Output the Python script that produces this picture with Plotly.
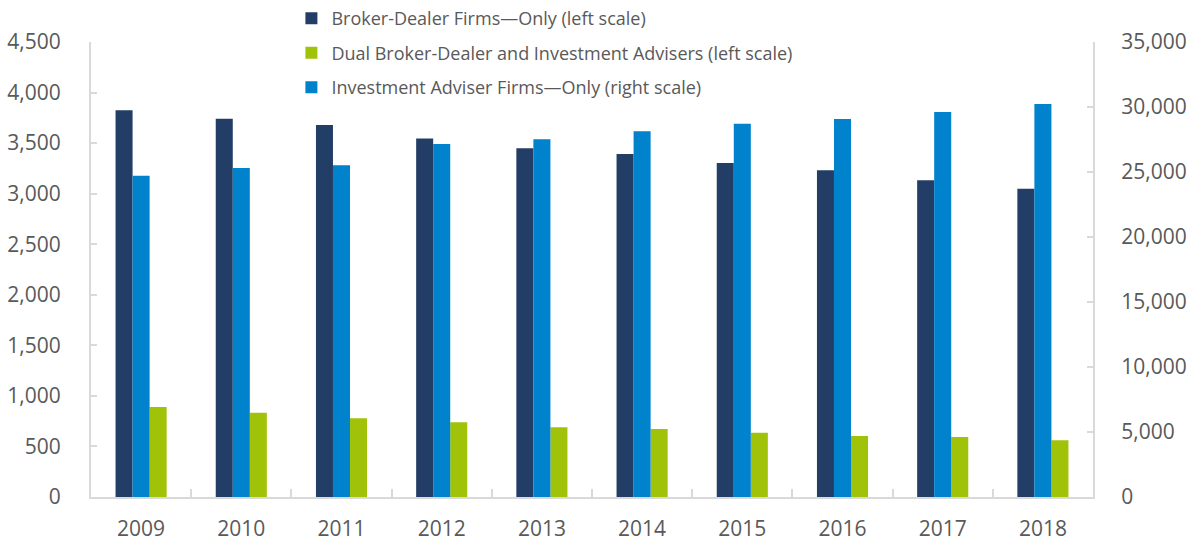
import plotly.graph_objects as go

years = ["2009", "2010", "2011", "2012", "2013", "2014", "2015", "2016", "2017", "2018"]
broker_dealer = [3825, 3740, 3680, 3545, 3450, 3392, 3303, 3232, 3133, 3048]
dual = [890, 834, 778, 739, 689, 672, 636, 603, 593, 561]
adviser = [24720, 25310, 25515, 27150, 27515, 28130, 28715, 29080, 29615, 30230]

NAVY = "#233E66"
GREEN = "#A0C30A"
BLUE = "#0082CD"
GRAY_TXT = "#595959"
AXIS = "#D9D9D9"

fig = go.Figure()
fig.add_trace(go.Bar(x=years, y=broker_dealer, name="Broker-Dealer Firms—Only (left scale)",
                     legendgroup="a", marker=dict(color=NAVY, line=dict(width=0)),
                     width=0.17, offset=-0.255))
fig.add_trace(go.Bar(x=years, y=dual, name="Dual Broker-Dealer and Investment Advisers (left scale)",
                     legendgroup="b", marker=dict(color=GREEN, line=dict(width=0)),
                     width=0.17, offset=0.085))
fig.add_trace(go.Bar(x=years, y=adviser, name="Investment Adviser Firms—Only (right scale)",
                     legendgroup="c", marker=dict(color=BLUE, line=dict(width=0)),
                     width=0.17, offset=-0.085, yaxis="y2"))

fig.update_layout(
    width=1191, height=544,
    template="plotly_white",
    plot_bgcolor="white", paper_bgcolor="white",
    font=dict(family="Open Sans", size=21, color=GRAY_TXT),
    margin=dict(l=91, r=98, t=42, b=47, autoexpand=False),
    barmode="overlay",
    showlegend=True,
    legend=dict(x=0.2, y=1.092, xanchor="left", yanchor="top", bgcolor="rgba(0,0,0,0)",
                font=dict(size=18, color=GRAY_TXT), traceorder="grouped", tracegroupgap=8),
    xaxis=dict(type="category", showgrid=False, showline=True, linecolor=AXIS, linewidth=2,
               ticks="inside", tickson="boundaries", ticklen=8, tickcolor=AXIS, tickwidth=2,
               ticklabelstandoff=12, zeroline=False, automargin=False),
    yaxis=dict(range=[0, 4500], dtick=500, tickformat=",", showgrid=False, showline=True,
               linecolor=AXIS, linewidth=2, ticks="inside", ticklen=6, tickcolor=AXIS, tickwidth=2,
               ticklabelstandoff=24, zeroline=False, automargin=False),
    yaxis2=dict(range=[0, 35000], dtick=5000, tickformat=",", overlaying="y", side="right",
                showgrid=False, showline=True, linecolor=AXIS, linewidth=2, ticks="inside",
                ticklen=6, tickcolor=AXIS, tickwidth=2, ticklabelstandoff=22, zeroline=False,
                automargin=False),
)

# drop the default page margin so the figure fills the window exactly
fig.write_html("out.html", config={"displayModeBar": False},
               post_script="document.body.style.margin='0';")
